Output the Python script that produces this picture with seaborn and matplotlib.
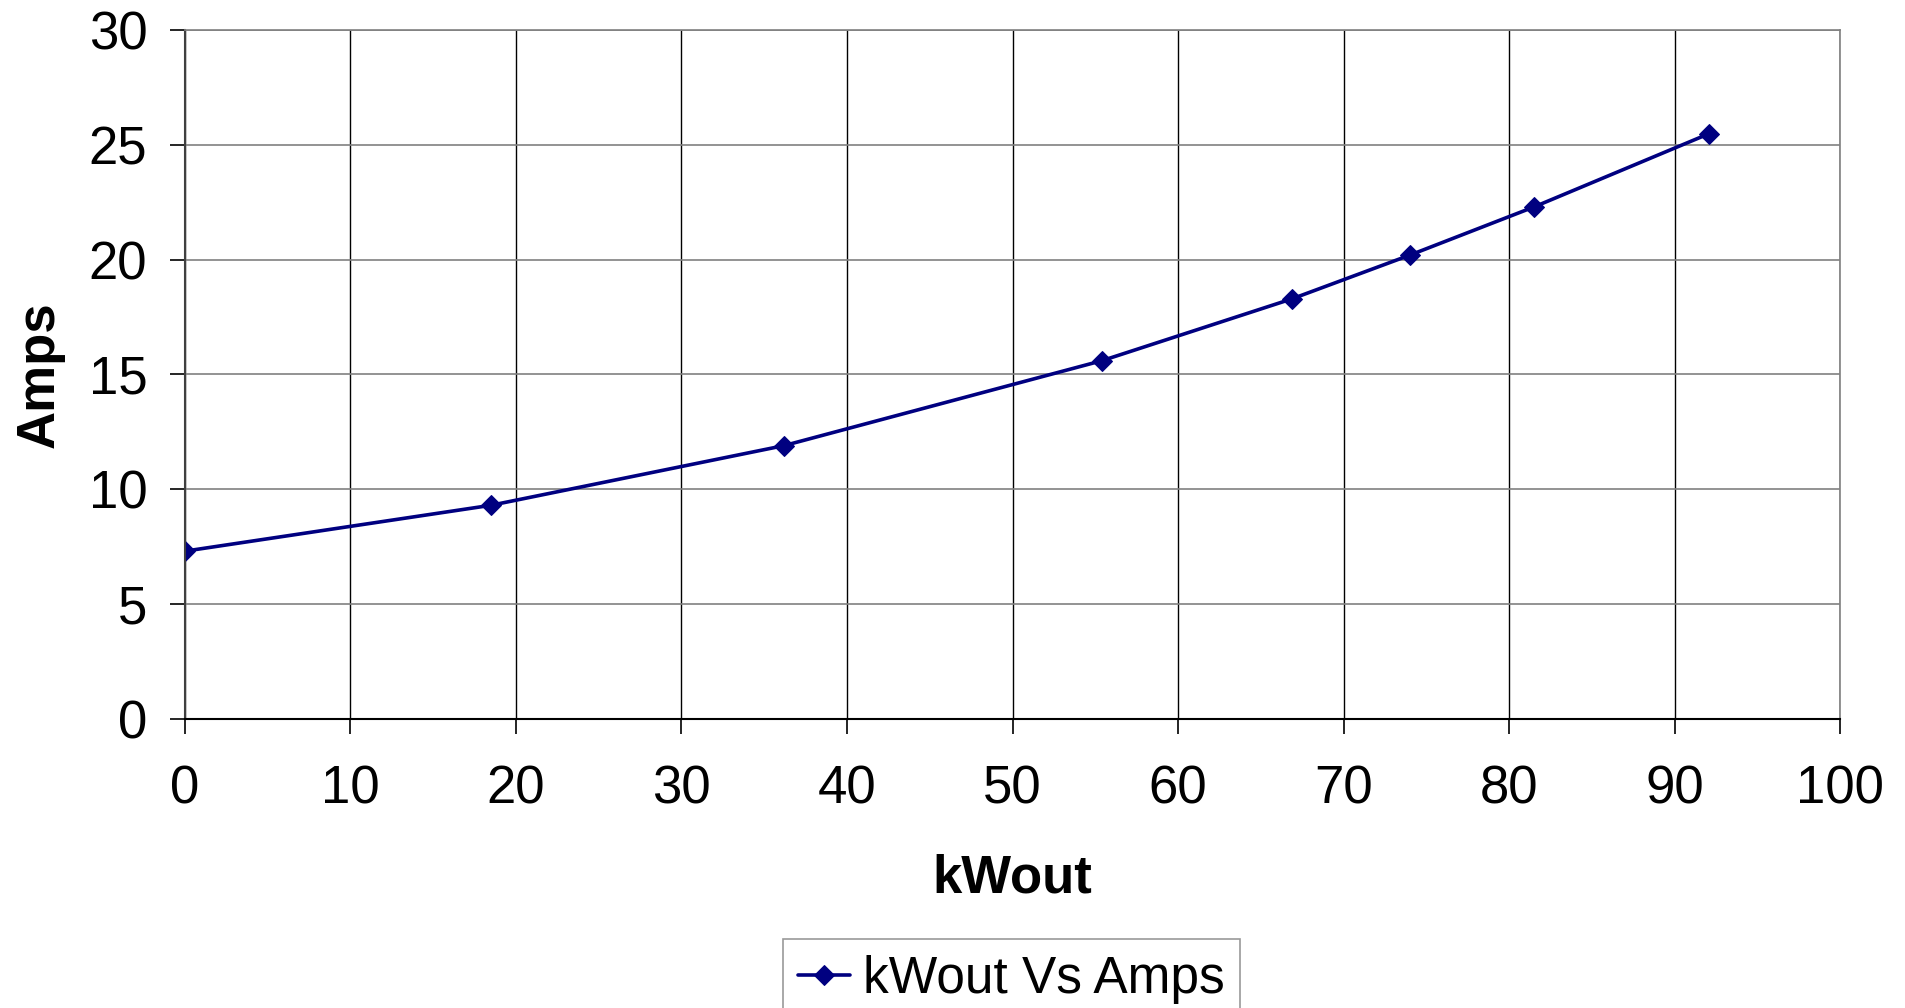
import pandas as pd
import matplotlib
matplotlib.use("Agg")
import matplotlib.pyplot as plt
import seaborn as sns

# dados
kwout = [0, 18.5, 36.2, 55.4, 66.9, 74.0, 81.5, 92.1]
amps = [7.3, 9.3, 11.9, 15.6, 18.3, 20.2, 22.3, 25.5]
serie = "kWout Vs Amps"

df = pd.DataFrame({"kWout": kwout, "Amps": amps})

sns.set_style("white")
plt.rcParams["font.family"] = ["Liberation Sans", "DejaVu Sans"]
plt.rcParams["text.color"] = "black"
plt.rcParams["axes.labelcolor"] = "black"

fig = plt.figure(figsize=(19.05, 10.08), dpi=100)
ax = fig.add_axes([0.097, 0.287, 0.869, 0.683])

sns.lineplot(data=df, x="kWout", y="Amps", marker="D", markersize=10,
             color="#000080", linewidth=2.6, markeredgecolor="#000080",
             label=serie, ax=ax)

ax.set_xlim(0, 100)
ax.set_ylim(0, 30)
ax.set_xticks(range(0, 101, 10))
ax.set_yticks(range(0, 31, 5))

ax.xaxis.grid(True, color="black", linewidth=1)
ax.yaxis.grid(True, color="#808080", linewidth=1.2)
ax.set_axisbelow(True)

for s in ["top", "right"]:
    ax.spines[s].set_color("#808080")
    ax.spines[s].set_linewidth(1.2)
ax.spines["left"].set_color("#404040")
ax.spines["left"].set_linewidth(1.5)
ax.spines["bottom"].set_color("black")
ax.spines["bottom"].set_linewidth(1.5)

ax.tick_params(axis="both", direction="out", length=11, width=1.2,
               labelsize=38, colors="black")
ax.tick_params(axis="x", pad=22)
ax.tick_params(axis="y", pad=16)
ax.tick_params(axis="both", left=True, bottom=True)

ax.set_xlabel("kWout", fontsize=38, fontweight="bold", labelpad=28)
ax.set_ylabel("Amps", fontsize=38, fontweight="bold", labelpad=17)

leg = ax.legend(loc="upper left", bbox_to_anchor=(0.411, 0.068),
                bbox_transform=fig.transFigure, fontsize=37, frameon=True,
                fancybox=False, borderpad=0.3, handlelength=1.0,
                handletextpad=0.25, borderaxespad=0)
leg.get_frame().set_edgecolor("#808080")
leg.get_frame().set_linewidth(1.2)

fig.savefig("out.png", dpi=100)
